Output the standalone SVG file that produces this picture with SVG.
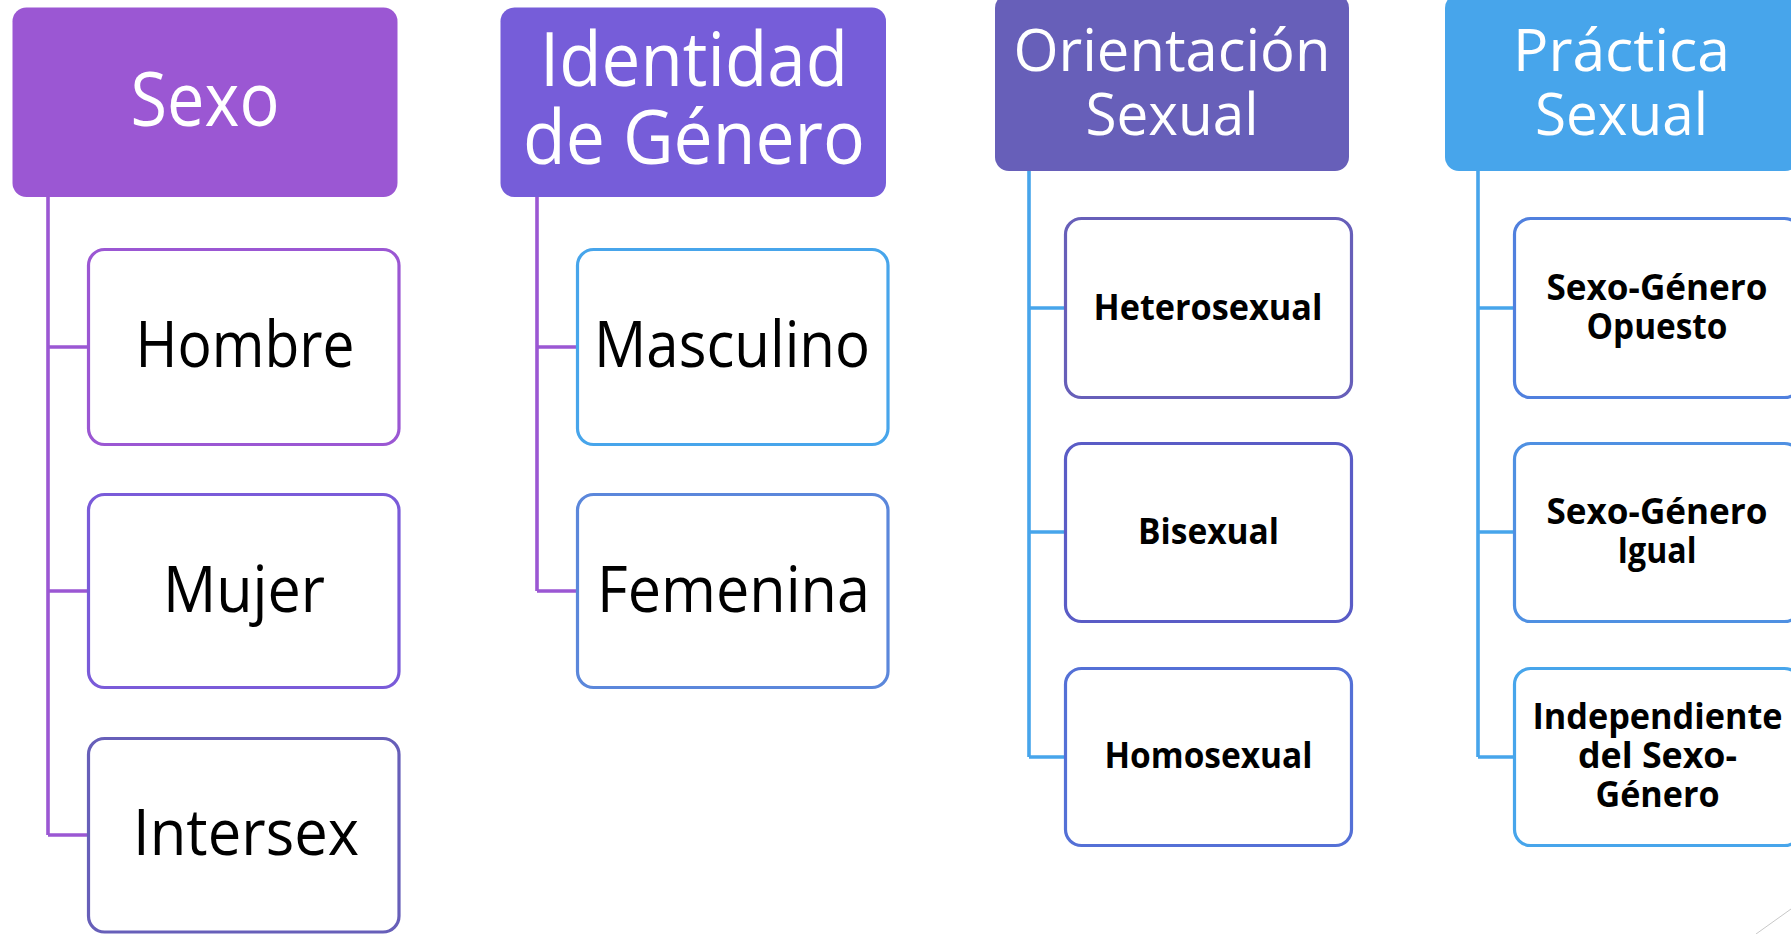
<svg xmlns="http://www.w3.org/2000/svg" width="1791" height="934" viewBox="0 0 1791 934">
<style>
.hdr text{fill:#ffffff;font-family:"Open Sans","Liberation Sans",sans-serif;text-anchor:middle}
.box rect{fill:#ffffff;stroke-width:3.2}
.lbl{fill:#000000;font-family:"Open Sans","Liberation Sans",sans-serif;text-anchor:middle}
.big{font-size:64px}
.bold{font-size:36px;font-weight:700}
.conn{fill:none;stroke-width:3.6;stroke-linejoin:miter}
</style>
<rect width="1791" height="934" fill="#ffffff"/>
<g id="connectors">
  <path class="conn" stroke="#9B57D3" d="M48,197 V835 M48,347 H88 M48,591 H88 M48,835 H88"/>
  <path class="conn" stroke="#9B57D3" d="M537,197 V591 M537,347 H577 M537,591 H577"/>
  <path class="conn" stroke="#47A5EB" d="M1029,171 V757 M1029,308 H1065 M1029,532 H1065 M1029,757 H1065"/>
  <path class="conn" stroke="#47A5EB" d="M1478,171 V757 M1478,308 H1514 M1478,532 H1514 M1478,757 H1514"/>
</g>
<g id="sexo" class="hdr">
  <rect x="12.5" y="7.5" width="385" height="189.5" rx="14" fill="#9B57D3"/>
  <text x="205" y="126" font-size="75" textLength="149" lengthAdjust="spacingAndGlyphs">Sexo</text>
</g>
<g id="identidad" class="hdr">
  <rect x="500.5" y="7.5" width="385.5" height="189.5" rx="14" fill="#765DD9"/>
  <text x="694" y="86" font-size="75" textLength="308" lengthAdjust="spacingAndGlyphs">Identidad</text>
  <text x="694" y="164" font-size="75" textLength="342" lengthAdjust="spacingAndGlyphs">de Género</text>
</g>
<g id="orientacion" class="hdr">
  <rect x="995" y="-6" width="354" height="177" rx="14" fill="#675FB9"/>
  <text x="1172" y="70.5" font-size="58" textLength="317" lengthAdjust="spacingAndGlyphs">Orientación</text>
  <text x="1172" y="135" font-size="58" textLength="173" lengthAdjust="spacingAndGlyphs">Sexual</text>
</g>
<g id="practica" class="hdr">
  <rect x="1445" y="-6" width="354" height="177" rx="14" fill="#47A5EB"/>
  <text x="1621.5" y="70.5" font-size="58" textLength="217" lengthAdjust="spacingAndGlyphs">Práctica</text>
  <text x="1621.5" y="135" font-size="58" textLength="173" lengthAdjust="spacingAndGlyphs">Sexual</text>
</g>
<g id="hombre" class="box">
  <rect x="88.5" y="249.5" width="310.5" height="195" rx="16" stroke="#9B57D3"/>
  <text class="lbl big" x="245" y="367" textLength="219" lengthAdjust="spacingAndGlyphs">Hombre</text>
</g>
<g id="mujer" class="box">
  <rect x="88.5" y="494.5" width="310.5" height="193" rx="16" stroke="#7A5BD9"/>
  <text class="lbl big" x="244" y="611.5" textLength="162" lengthAdjust="spacingAndGlyphs">Mujer</text>
</g>
<g id="intersex" class="box">
  <rect x="88.5" y="738.5" width="310.5" height="193.5" rx="16" stroke="#675FB9"/>
  <text class="lbl big" x="246" y="855" textLength="226" lengthAdjust="spacingAndGlyphs">Intersex</text>
</g>
<g id="masculino" class="box">
  <rect x="577.5" y="249.5" width="310.5" height="195" rx="16" stroke="#47A5EB"/>
  <text class="lbl big" x="732" y="367" textLength="276" lengthAdjust="spacingAndGlyphs">Masculino</text>
</g>
<g id="femenina" class="box">
  <rect x="577.5" y="494.5" width="310.5" height="193" rx="16" stroke="#5B87DB"/>
  <text class="lbl big" x="733.5" y="612" textLength="273" lengthAdjust="spacingAndGlyphs">Femenina</text>
</g>
<g id="heterosexual" class="box">
  <rect x="1065.5" y="218.5" width="286" height="179" rx="16" stroke="#675FB9"/>
  <text class="lbl bold" x="1208" y="319.5" textLength="229" lengthAdjust="spacingAndGlyphs">Heterosexual</text>
</g>
<g id="bisexual" class="box">
  <rect x="1065.5" y="443.5" width="286" height="178" rx="16" stroke="#5A5CC6"/>
  <text class="lbl bold" x="1208.5" y="544" textLength="141" lengthAdjust="spacingAndGlyphs">Bisexual</text>
</g>
<g id="homosexual" class="box">
  <rect x="1065.5" y="668.5" width="286" height="177" rx="16" stroke="#5470D6"/>
  <text class="lbl bold" x="1208.5" y="767.5" textLength="208" lengthAdjust="spacingAndGlyphs">Homosexual</text>
</g>
<g id="opuesto" class="box">
  <rect x="1514.5" y="218.5" width="286" height="179" rx="16" stroke="#5080DE"/>
  <text class="lbl bold" x="1657" y="300" textLength="221" lengthAdjust="spacingAndGlyphs">Sexo-Género</text>
  <text class="lbl bold" x="1657" y="339" textLength="141" lengthAdjust="spacingAndGlyphs">Opuesto</text>
</g>
<g id="igual" class="box">
  <rect x="1514.5" y="443.5" width="286" height="178" rx="16" stroke="#4F90E2"/>
  <text class="lbl bold" x="1657" y="524" textLength="221" lengthAdjust="spacingAndGlyphs">Sexo-Género</text>
  <text class="lbl bold" x="1657" y="562.5" textLength="79" lengthAdjust="spacingAndGlyphs">Igual</text>
</g>
<g id="independiente" class="box">
  <rect x="1514.5" y="668.5" width="286" height="177" rx="16" stroke="#47A5EB"/>
  <text class="lbl bold" x="1657.5" y="729" textLength="250" lengthAdjust="spacingAndGlyphs">Independiente</text>
  <text class="lbl bold" x="1657.5" y="767.5" textLength="159" lengthAdjust="spacingAndGlyphs">del Sexo-</text>
  <text class="lbl bold" x="1657.5" y="806.5" textLength="124" lengthAdjust="spacingAndGlyphs">Género</text>
</g>
<line x1="1756" y1="934" x2="1791" y2="909" stroke="#c8c8c8" stroke-width="1"/>
</svg>
